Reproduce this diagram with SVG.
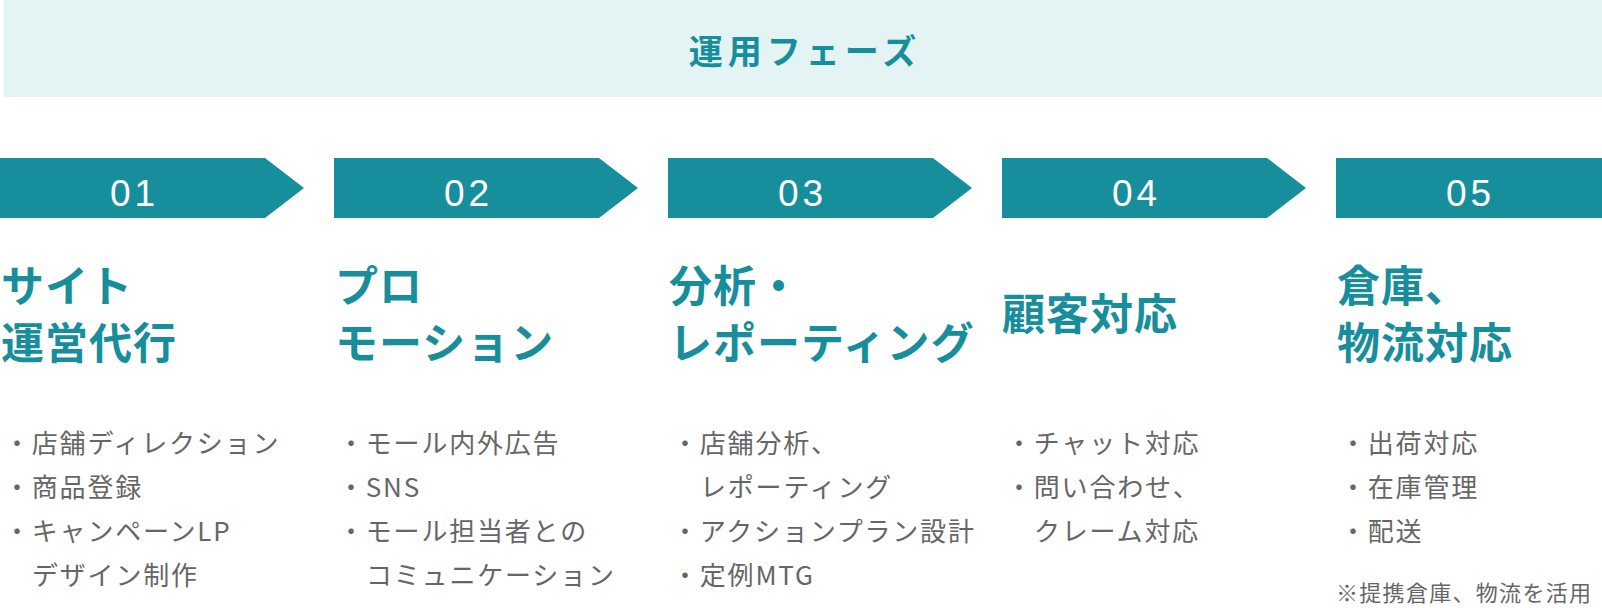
<svg xmlns="http://www.w3.org/2000/svg" width="1602" height="608" viewBox="0 0 1602 608">
<defs>
<style>
.band{fill:#e4f3f3}
.arr{fill:#178e9c}
.title{font-family:"Noto Sans CJK JP",sans-serif;font-weight:700;font-size:34px;letter-spacing:5px;fill:#178e9c}
.num{font-family:"Liberation Sans",Arial,sans-serif;font-size:37px;letter-spacing:4px;fill:#ffffff;text-anchor:middle}
.head{font-family:"Noto Sans CJK JP",sans-serif;font-weight:700;font-size:43px;letter-spacing:1px;fill:#178e9c}
.item{font-family:"Noto Sans CJK JP",sans-serif;font-size:26px;letter-spacing:1.8px;fill:#666666}
.note{font-family:"Noto Sans CJK JP",sans-serif;font-size:22px;letter-spacing:1.3px;fill:#666666}
</style>
</defs>
<rect class="band" x="4" y="0" width="1598" height="97"/>
<text class="title" x="805" y="64" text-anchor="middle">運用フェーズ</text>

<g id="step1">
<polygon class="arr" points="0,158 265,158 304,188 265,218 0,218"/>
<text class="num" x="134.5" y="206">01</text>
<text class="head" x="1" y="302">サイト</text>
<text class="head" x="1" y="359">運営代行</text>
<text class="item" x="4" y="453">・店舗ディレクション</text>
<text class="item" x="4" y="497">・商品登録</text>
<text class="item" x="4" y="541">・キャンペーンLP</text>
<text class="item" x="32" y="585">デザイン制作</text>
</g>

<g id="step2">
<polygon class="arr" points="334,158 599,158 638,188 599,218 334,218"/>
<text class="num" x="468.5" y="206">02</text>
<text class="head" x="335" y="302">プロ</text>
<text class="head" x="335" y="359">モーション</text>
<text class="item" x="338" y="453">・モール内外広告</text>
<text class="item" x="338" y="497">・SNS</text>
<text class="item" x="338" y="541">・モール担当者との</text>
<text class="item" x="366" y="585">コミュニケーション</text>
</g>

<g id="step3">
<polygon class="arr" points="668,158 933,158 972,188 933,218 668,218"/>
<text class="num" x="802.5" y="206">03</text>
<text class="head" x="669" y="302">分析・</text>
<text class="head" x="669" y="359">レポーティング</text>
<text class="item" x="672" y="453">・店舗分析、</text>
<text class="item" x="700" y="497">レポーティング</text>
<text class="item" x="672" y="541">・アクションプラン設計</text>
<text class="item" x="672" y="585">・定例MTG</text>
</g>

<g id="step4">
<polygon class="arr" points="1002,158 1267,158 1306,188 1267,218 1002,218"/>
<text class="num" x="1136.5" y="206">04</text>
<text class="head" x="1002" y="330">顧客対応</text>
<text class="item" x="1006" y="453">・チャット対応</text>
<text class="item" x="1006" y="497">・問い合わせ、</text>
<text class="item" x="1034" y="541">クレーム対応</text>
</g>

<g id="step5">
<polygon class="arr" points="1336,158 1602,158 1602,218 1336,218"/>
<text class="num" x="1470.5" y="206">05</text>
<text class="head" x="1337" y="302">倉庫、</text>
<text class="head" x="1337" y="359">物流対応</text>
<text class="item" x="1340" y="453">・出荷対応</text>
<text class="item" x="1340" y="497">・在庫管理</text>
<text class="item" x="1340" y="541">・配送</text>
<text class="note" x="1336" y="601">※提携倉庫、物流を活用</text>
</g>

<g id="connectors"></g>
</svg>
